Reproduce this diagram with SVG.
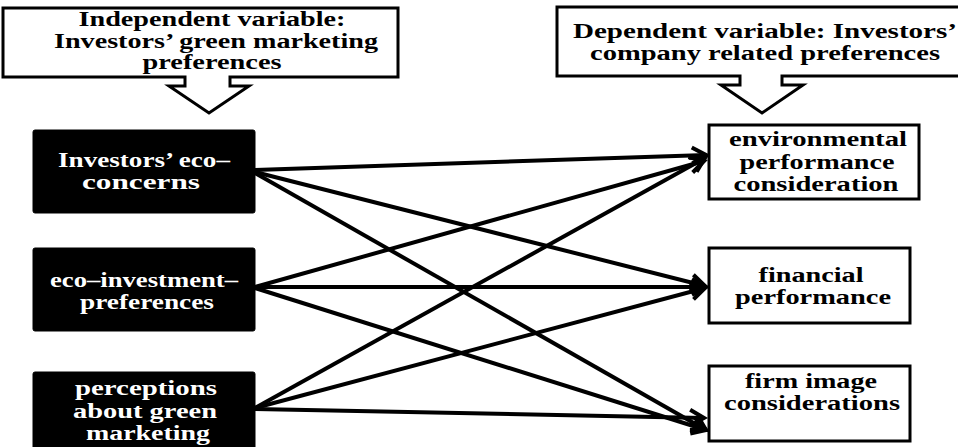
<svg xmlns="http://www.w3.org/2000/svg" width="958" height="447" viewBox="0 0 958 447">
<defs>
<style>
.t{font-family:"Liberation Serif","Times New Roman",serif;font-weight:bold;font-size:20px;text-anchor:middle;fill:#000}
.w{fill:#fff}
.call{fill:#fff;stroke:#000;stroke-width:3;stroke-linejoin:miter}
.blk{fill:#000;stroke:#000;stroke-width:1}
.wb{fill:#fff;stroke:#000;stroke-width:3}
.c line{stroke:#000;stroke-width:4;fill:none;marker-end:url(#ah)}
</style>
<marker id="ah" markerUnits="userSpaceOnUse" markerWidth="40" markerHeight="40" refX="0" refY="0" orient="auto" viewBox="-20 -20 40 40" overflow="visible">
<path d="M-14,-8 L0,0 L-14,8" fill="none" stroke="#000" stroke-width="4"/>
</marker>
</defs>
<rect width="958" height="447" fill="#fff"/>

<g id="callout-independent">
<path class="call" d="M3,8 H398 V77 H230 V86 H249 L209,113 L169,86 H185 V77 H3 Z"/>
<text class="t" x="212" y="26" textLength="267" lengthAdjust="spacingAndGlyphs">Independent variable:</text>
<text class="t" x="216" y="48" textLength="324" lengthAdjust="spacingAndGlyphs">Investors’ green marketing</text>
<text class="t" x="212" y="69" textLength="139" lengthAdjust="spacingAndGlyphs">preferences</text>
</g>

<g id="callout-dependent">
<path class="call" d="M557,7 H975 V76 H782 V85 H803 L762,113 L721,85 H740 V76 H557 Z"/>
<text class="t" x="765" y="38" textLength="384" lengthAdjust="spacingAndGlyphs">Dependent variable: Investors’</text>
<text class="t" x="765" y="60" textLength="350" lengthAdjust="spacingAndGlyphs">company related preferences</text>
</g>

<g id="n-eco-concerns">
<rect class="blk" x="33" y="130" width="222" height="83" rx="2"/>
<text class="t w" x="144" y="167" textLength="172" lengthAdjust="spacingAndGlyphs">Investors’ eco–</text>
<text class="t w" x="141" y="189" textLength="118" lengthAdjust="spacingAndGlyphs">concerns</text>
</g>

<g id="n-eco-investment">
<rect class="blk" x="33" y="248" width="222" height="83" rx="2"/>
<text class="t w" x="144" y="287" textLength="188" lengthAdjust="spacingAndGlyphs">eco–investment–</text>
<text class="t w" x="147" y="309" textLength="134" lengthAdjust="spacingAndGlyphs">preferences</text>
</g>

<g id="n-perceptions">
<rect class="blk" x="33" y="372" width="222" height="85" rx="2"/>
<text class="t w" x="146" y="395" textLength="142" lengthAdjust="spacingAndGlyphs">perceptions</text>
<text class="t w" x="145" y="418" textLength="144" lengthAdjust="spacingAndGlyphs">about green</text>
<text class="t w" x="148" y="440" textLength="124" lengthAdjust="spacingAndGlyphs">marketing</text>
</g>

<g id="n-environmental">
<rect class="wb" x="709" y="125" width="210" height="74"/>
<text class="t" x="818" y="146" textLength="178" lengthAdjust="spacingAndGlyphs">environmental</text>
<text class="t" x="817" y="169" textLength="155" lengthAdjust="spacingAndGlyphs">performance</text>
<text class="t" x="816" y="191" textLength="165" lengthAdjust="spacingAndGlyphs">consideration</text>
</g>

<g id="n-financial">
<rect class="wb" x="709" y="248" width="201" height="75"/>
<text class="t" x="811" y="282" textLength="105" lengthAdjust="spacingAndGlyphs">financial</text>
<text class="t" x="813" y="304" textLength="156" lengthAdjust="spacingAndGlyphs">performance</text>
</g>

<g id="n-firm-image">
<rect class="wb" x="709" y="366" width="201" height="75"/>
<text class="t" x="811" y="388" textLength="132" lengthAdjust="spacingAndGlyphs">firm image</text>
<text class="t" x="812" y="410" textLength="176" lengthAdjust="spacingAndGlyphs">considerations</text>
</g>

<g id="connectors" class="c">
<line x1="255" y1="170" x2="706" y2="155"/>
<line x1="255" y1="172" x2="705" y2="286"/>
<line x1="255" y1="173" x2="706" y2="430"/>
<line x1="255" y1="287" x2="704" y2="161"/>
<line x1="255" y1="287" x2="706" y2="287"/>
<line x1="255" y1="288" x2="706" y2="430"/>
<line x1="255" y1="408" x2="705" y2="158"/>
<line x1="255" y1="408" x2="705" y2="288"/>
<line x1="255" y1="409" x2="704" y2="418"/>
</g>
</svg>
